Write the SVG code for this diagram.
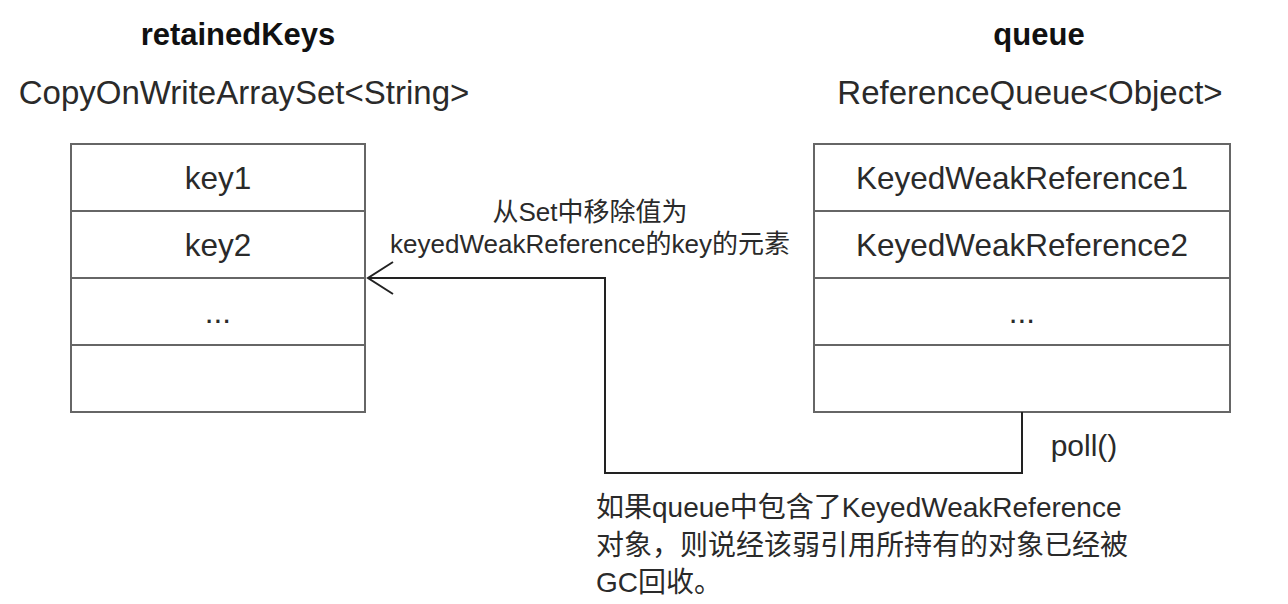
<svg xmlns="http://www.w3.org/2000/svg" width="1288" height="604" viewBox="0 0 1288 604">
<style>
text{font-family:"Liberation Sans","Noto Sans CJK SC",sans-serif;fill:#2a2a2a}
.title{font-size:31px;font-weight:bold;text-anchor:middle;fill:#111}
.sub{font-size:33px;text-anchor:middle}
.cell{font-size:31.5px;text-anchor:middle}
.note{font-size:26px;text-anchor:middle}
.desc{font-size:28px}
.box{fill:#fff;stroke:#666;stroke-width:2}
.sep{stroke:#666;stroke-width:2}
.conn{fill:none;stroke:#222;stroke-width:2}
</style>
<defs>
<marker id="open" viewBox="0 0 30 36" refX="28" refY="18" markerWidth="30" markerHeight="36" markerUnits="userSpaceOnUse" orient="auto">
<path d="M3,2 L28,18 L3,34" fill="none" stroke="#222" stroke-width="2"/>
</marker>
</defs>
<g id="retainedKeys">
<text class="title" x="238" y="45">retainedKeys</text>
<text class="sub" x="244" y="104">CopyOnWriteArraySet&lt;String&gt;</text>
<rect class="box" x="71" y="144" width="294" height="268"/>
<line class="sep" x1="71" y1="211" x2="365" y2="211"/>
<line class="sep" x1="71" y1="278" x2="365" y2="278"/>
<line class="sep" x1="71" y1="345" x2="365" y2="345"/>
<text class="cell" x="218" y="189">key1</text>
<text class="cell" x="218" y="256">key2</text>
<text class="cell" x="218" y="323">...</text>
</g>
<g id="queue">
<text class="title" x="1039" y="45">queue</text>
<text class="sub" x="1030" y="104">ReferenceQueue&lt;Object&gt;</text>
<rect class="box" x="814" y="144" width="416" height="268"/>
<line class="sep" x1="814" y1="211" x2="1230" y2="211"/>
<line class="sep" x1="814" y1="278" x2="1230" y2="278"/>
<line class="sep" x1="814" y1="345" x2="1230" y2="345"/>
<text class="cell" x="1022" y="189">KeyedWeakReference1</text>
<text class="cell" x="1022" y="256">KeyedWeakReference2</text>
<text class="cell" x="1022" y="323">...</text>
</g>
<g id="connectors">
<path class="conn" d="M1022,412 L1022,473 L605,473 L605,278 L368,278" marker-end="url(#open)"/>
</g>
<g id="labels">
<text class="note" x="590" y="221">从Set中移除值为</text>
<text class="note" x="590" y="253">keyedWeakReference的key的元素</text>
<text class="cell" x="1084" y="456" style="font-size:30px">poll()</text>
<text class="desc" x="596" y="517">如果queue中包含了KeyedWeakReference</text>
<text class="desc" x="596" y="555">对象，则说经该弱引用所持有的对象已经被</text>
<text class="desc" x="596" y="592">GC回收。</text>
</g>
</svg>
